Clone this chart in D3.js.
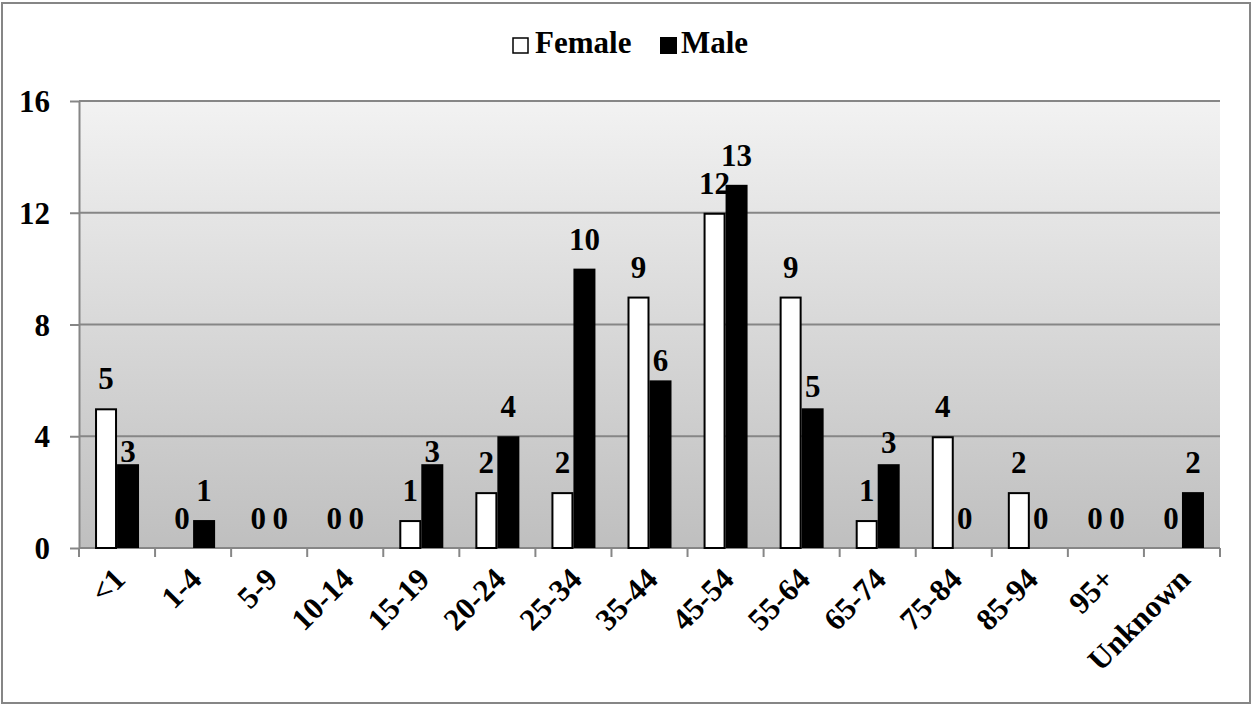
<!DOCTYPE html>
<html>
<head>
<meta charset="utf-8">
<script src="https://cdn.jsdelivr.net/npm/d3@7"></script>
<style>
  html, body { margin: 0; padding: 0; background: #fff; }
  svg { display: block; }
</style>
</head>
<body>
<svg id="chart" width="1252" height="705"></svg>
<script>
// Age groups and case counts by sex
const ageGroups = ["<1", "1-4", "5-9", "10-14", "15-19", "20-24", "25-34", "35-44",
                   "45-54", "55-64", "65-74", "75-84", "85-94", "95+", "Unknown"];
const femaleCounts = [5, 0, 0, 0, 1, 2, 2, 9, 12, 9, 1, 4, 2, 0, 0];
const maleCounts   = [3, 1, 0, 0, 3, 4, 10, 6, 13, 5, 3, 0, 0, 0, 2];
const seriesNames = ["Female", "Male"];
const yTicks = [0, 4, 8, 12, 16];

const W = 1252, H = 705;
const plot = { left: 79, right: 1220, top: 101, bottom: 548 };
const barW = 22;
const FONT = "'Liberation Serif', 'Times New Roman', serif";

const svg = d3.select("#chart");

// outer frame
svg.append("rect")
  .attr("x", 2).attr("y", 3).attr("width", W - 4).attr("height", H - 5)
  .attr("fill", "#fff").attr("stroke", "#868686").attr("stroke-width", 2);

// plot-area background gradient
const defs = svg.append("defs");
const grad = defs.append("linearGradient")
  .attr("id", "plotBg").attr("x1", 0).attr("y1", 0).attr("x2", 0).attr("y2", 1);
grad.append("stop").attr("offset", "0%").attr("stop-color", "#f2f2f2");
grad.append("stop").attr("offset", "100%").attr("stop-color", "#bfbfbf");

const x = d3.scaleBand().domain(ageGroups).range([plot.left, plot.right]).padding(0);
const y = d3.scaleLinear().domain([0, 16]).range([plot.bottom, plot.top]);

svg.append("rect")
  .attr("x", plot.left).attr("y", plot.top)
  .attr("width", plot.right - plot.left).attr("height", plot.bottom - plot.top)
  .attr("fill", "url(#plotBg)");

// horizontal gridlines
svg.append("g").selectAll("line")
  .data(yTicks.filter(d => d > 0))
  .join("line")
  .attr("x1", plot.left).attr("x2", plot.right)
  .attr("y1", d => y(d)).attr("y2", d => y(d))
  .attr("stroke", "#868686").attr("stroke-width", 2);

// y axis
const yAxis = svg.append("g")
  .attr("transform", `translate(${plot.left},0)`)
  .call(d3.axisLeft(y).tickValues(yTicks).tickSize(9).tickPadding(20).tickSizeOuter(0));
yAxis.attr("font-family", null).attr("font-size", null);
yAxis.select(".domain").attr("stroke", "#868686").attr("stroke-width", 2);
yAxis.selectAll(".tick line").attr("stroke", "#868686").attr("stroke-width", 2);
yAxis.selectAll(".tick text").attr("dy", "0.34em");

// x axis with ticks at band boundaries
const xAxisG = svg.append("g").attr("transform", `translate(0,${plot.bottom})`);
xAxisG.append("line")
  .attr("x1", plot.left).attr("x2", plot.right)
  .attr("stroke", "#868686").attr("stroke-width", 2);
const boundaries = ageGroups.map(d => x(d)).concat([plot.right]);
xAxisG.selectAll("line.tick")
  .data(boundaries)
  .join("line").attr("class", "tick")
  .attr("x1", d => d).attr("x2", d => d).attr("y1", 0).attr("y2", 9)
  .attr("stroke", "#868686").attr("stroke-width", 2);
xAxisG.selectAll("text")
  .data(ageGroups)
  .join("text")
  .attr("text-anchor", "end")
  .attr("transform", d => `translate(${x(d) + x.bandwidth() / 2 + 10},${33}) rotate(-45)`)
  .text(d => d);

// bars
const rows = ageGroups.map((g, i) => ({ group: g, Female: femaleCounts[i], Male: maleCounts[i] }));
const cx = d => x(d.group) + x.bandwidth() / 2;

// Extra drop for a few labels (px below the default spot above the bar)
const labelNudge = { "Male|<1": 17, "Male|15-19": 17, "Male|65-74": 8, "Male|35-44": 10, "Male|55-64": 8 };

seriesNames.forEach((s, si) => {
  const g = svg.append("g");
  g.selectAll("rect")
    .data(rows.filter(r => r[s] > 0))
    .join("rect")
    .attr("x", d => si === 0 ? cx(d) - barW + 1 : cx(d))
    .attr("y", d => y(d[s]) + (si === 0 ? 1 : 0))
    .attr("width", si === 0 ? barW - 2 : barW)
    .attr("height", d => y(0) - y(d[s]) - (si === 0 ? 1 : 0))
    .attr("fill", si === 0 ? "#fff" : "#000")
    .attr("stroke", "#000")
    .attr("stroke-width", si === 0 ? 2 : 0);

  g.selectAll("text")
    .data(rows)
    .join("text")
    .attr("text-anchor", "middle")
    .attr("x", d => si === 0 ? cx(d) - barW / 2 : cx(d) + barW / 2)
    .attr("y", d => y(d[s]) - 19 + (labelNudge[s + "|" + d.group] || 0))
    .text(d => d[s]);
});

// legend
const legend = svg.append("g");
legend.append("rect").attr("x", 513).attr("y", 38).attr("width", 15).attr("height", 15)
  .attr("fill", "#fff").attr("stroke", "#000").attr("stroke-width", 1.5);
legend.append("text").attr("class", "leg").attr("x", 535).attr("y", 53).text(seriesNames[0]);
legend.append("rect").attr("x", 660).attr("y", 37).attr("width", 17).attr("height", 17)
  .attr("fill", "#000");
legend.append("text").attr("class", "leg").attr("x", 681).attr("y", 53).text(seriesNames[1]);

// shared text styling
svg.selectAll("text")
  .style("font-family", FONT)
  .style("font-weight", "bold")
  .style("font-size", "31px")
  .style("fill", "#000");
</script>
</body>
</html>
